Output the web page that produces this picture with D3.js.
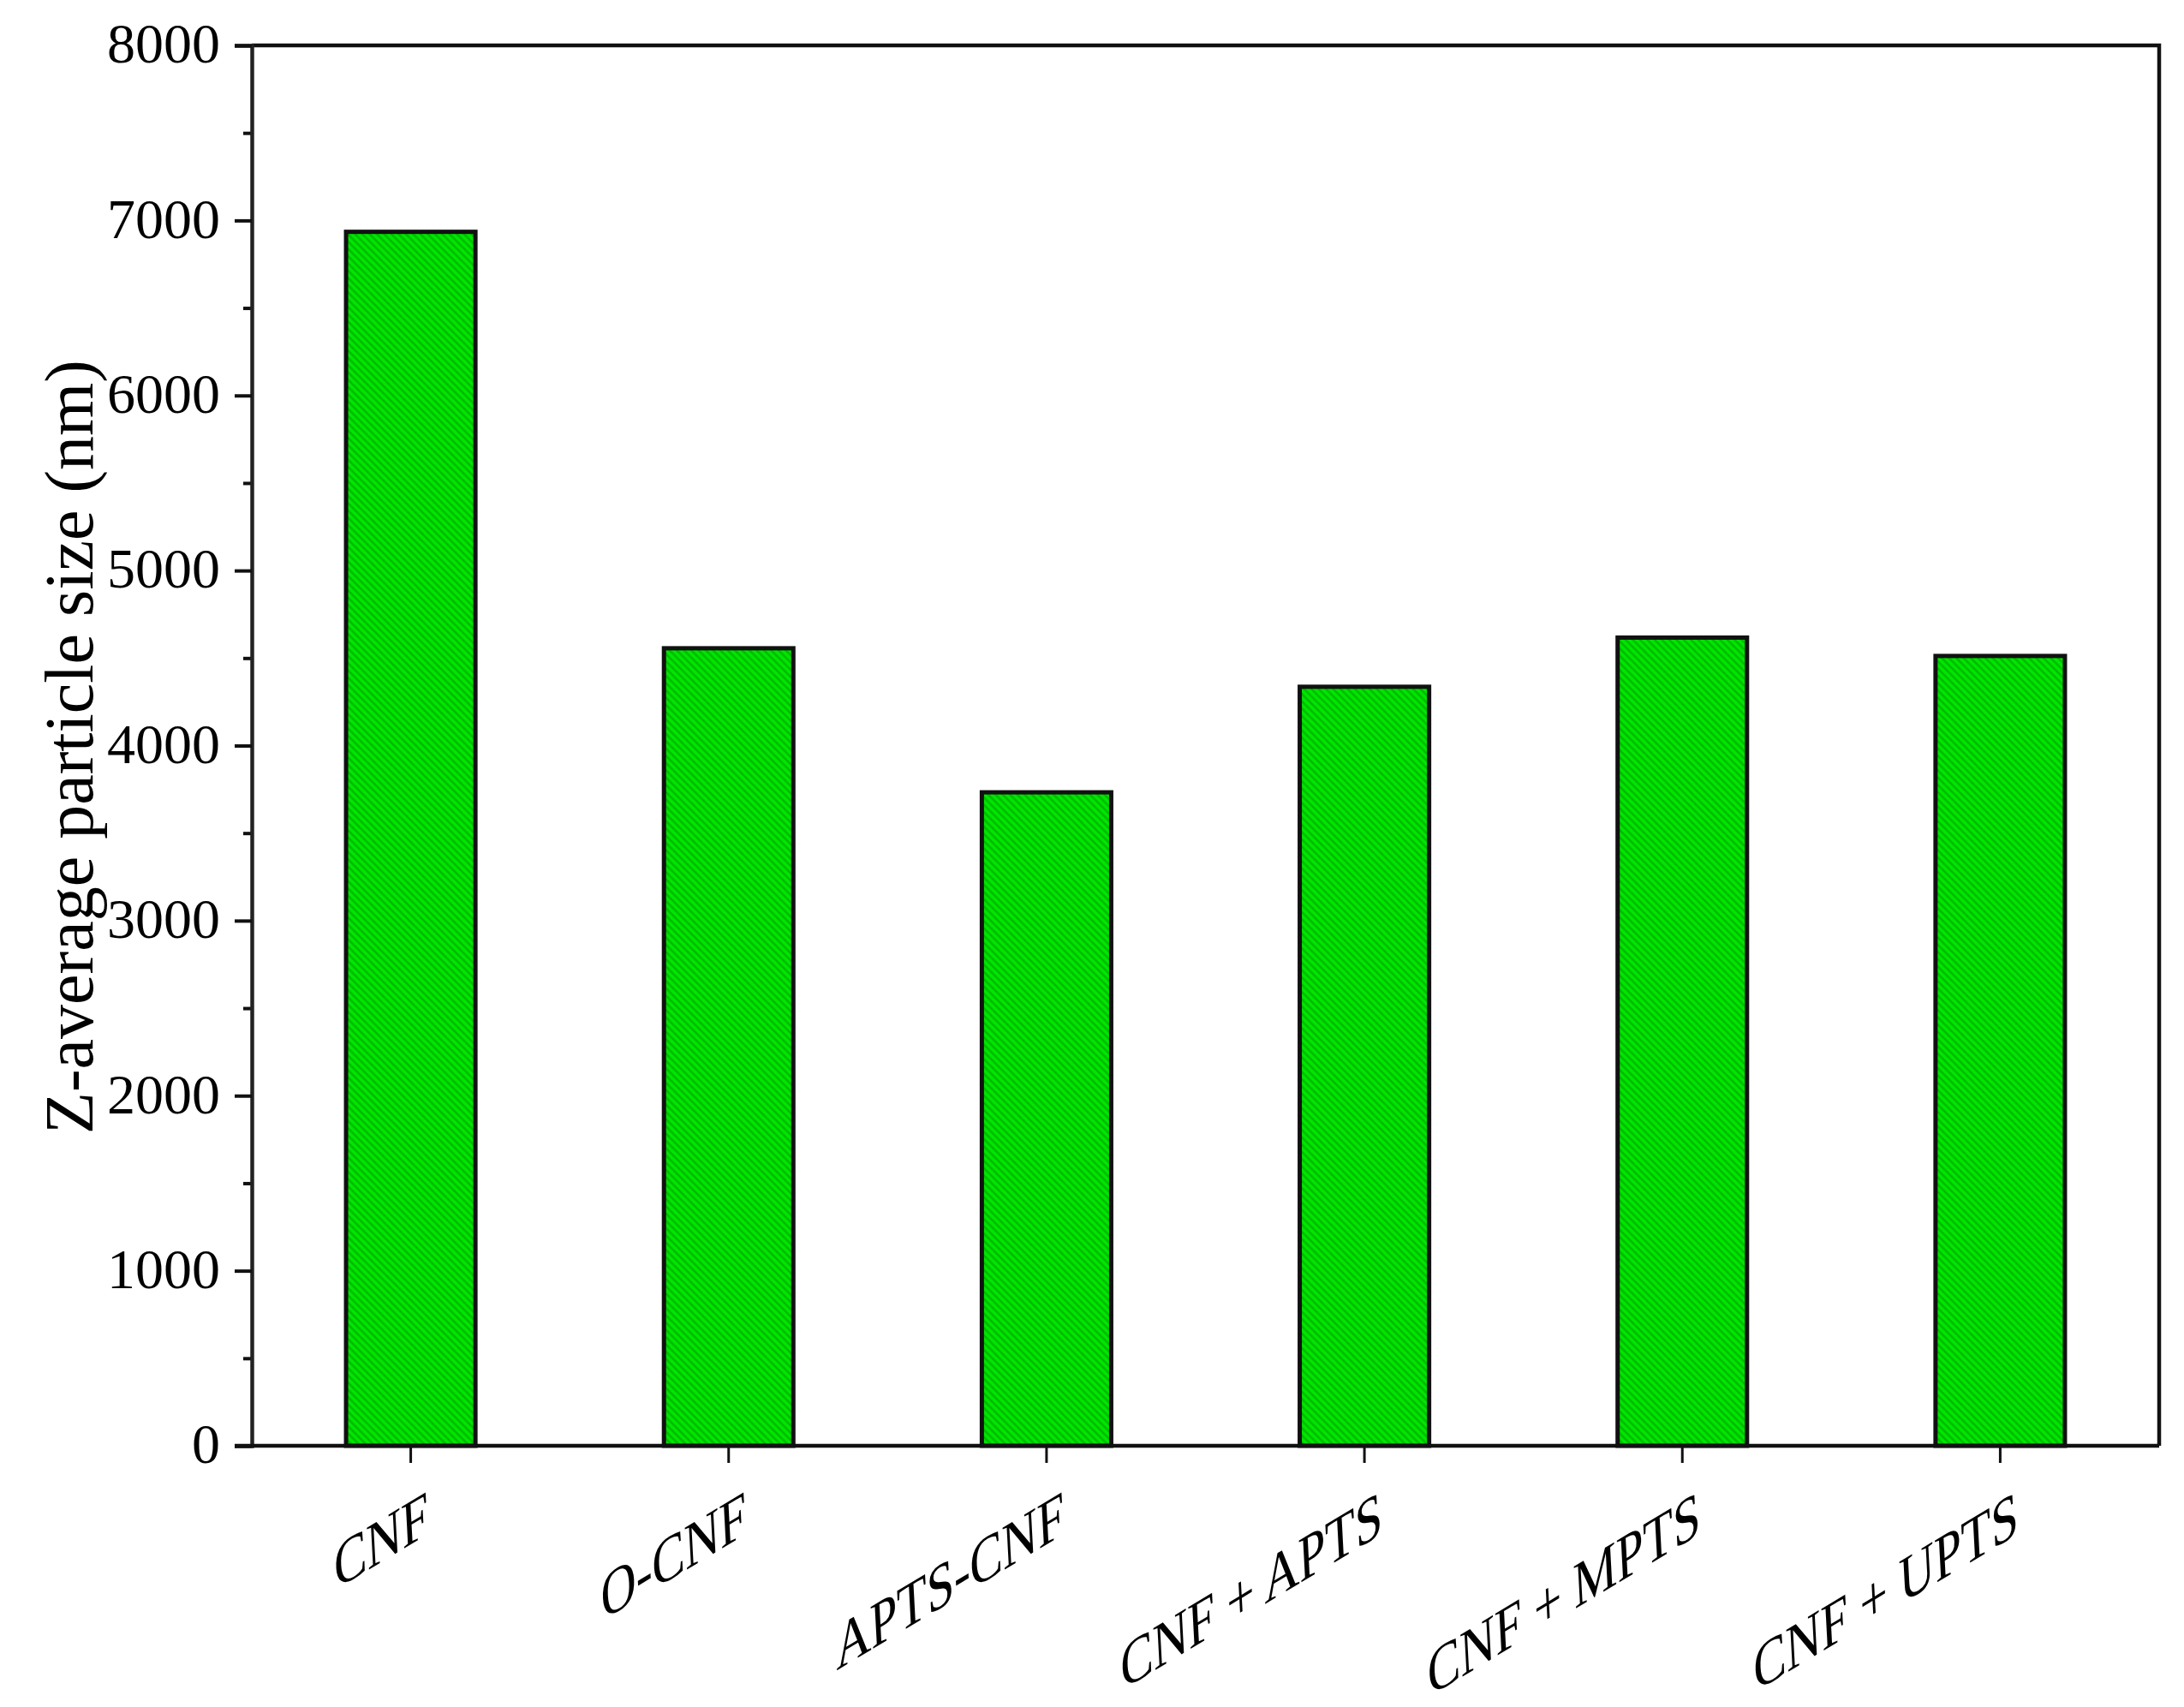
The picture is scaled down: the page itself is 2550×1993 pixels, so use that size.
<!DOCTYPE html>
<html>
<head>
<meta charset="utf-8">
<script src="https://cdn.jsdelivr.net/npm/d3@7"></script>
<style>
  html, body { margin: 0; padding: 0; background: #fff; }
  svg { display: block; }
  text { font-family: "Liberation Serif", "Times New Roman", serif; fill: #000; }
</style>
</head>
<body>
<svg id="bar-chart-svg"></svg>
<script>
// Chart data
const samples = ["CNF", "O-CNF", "APTS-CNF", "CNF + APTS", "CNF + MPTS", "CNF + UPTS"];
const zAverage = [6935, 4556, 3733, 4336, 4617, 4512];
const yTicks = [0, 1000, 2000, 3000, 4000, 5000, 6000, 7000, 8000];
const yMinorTicks = [500, 1500, 2500, 3500, 4500, 5500, 6500, 7500];
const yTitle = "Z-average particle size (nm)";

const data = samples.map((name, i) => ({ name, value: zAverage[i] }));

const width = 2550;
const height = 1993;

const svg = d3.select("#bar-chart-svg")
  .attr("width", width)
  .attr("height", height)
  .attr("viewBox", `0 0 ${width} ${height}`);

svg.append("rect").attr("width", width).attr("height", height).attr("fill", "#fff");

const margin = { top: 53, right: 29, bottom: 305, left: 294 };
const innerWidth = width - margin.left - margin.right;
const innerHeight = height - margin.top - margin.bottom;

// hatched green fill
const defs = svg.append("defs");
const pat = defs.append("pattern")
  .attr("id", "hatch")
  .attr("patternUnits", "userSpaceOnUse")
  .attr("width", 6)
  .attr("height", 6)
  .attr("patternTransform", "rotate(-45)");
pat.append("rect").attr("width", 6).attr("height", 6).attr("fill", "#00e600");
pat.append("line")
  .attr("x1", 1.5).attr("y1", 0).attr("x2", 1.5).attr("y2", 6)
  .attr("stroke", "#00b400").attr("stroke-width", 2.2);

// scales
const xScale = d3.scaleBand()
  .domain(samples)
  .range([0, innerWidth])
  .paddingInner(0.593)
  .paddingOuter(0.2965);

const yScale = d3.scaleLinear()
  .domain([0, 8000])
  .range([innerHeight, 0]);

const g = svg.append("g")
  .attr("transform", `translate(${margin.left},${margin.top})`);

// bars
g.selectAll("rect.bar")
  .data(data)
  .enter()
  .append("rect")
  .attr("class", "bar")
  .attr("x", d => xScale(d.name))
  .attr("y", d => yScale(d.value))
  .attr("width", xScale.bandwidth())
  .attr("height", d => innerHeight - yScale(d.value))
  .attr("fill", "url(#hatch)")
  .attr("stroke", "#111")
  .attr("stroke-width", 5);

// frame (top and right lines)
g.append("path")
  .attr("d", `M0,0H${innerWidth}V${innerHeight}`)
  .attr("fill", "none")
  .attr("stroke", "#111")
  .attr("stroke-width", 4.5);

// minor y ticks
const yMinorG = g.append("g")
  .call(d3.axisLeft(yScale).tickValues(yMinorTicks).tickSize(10).tickFormat(""));
yMinorG.select(".domain").remove();
yMinorG.selectAll("line").attr("stroke", "#111").attr("stroke-width", 4);

// Y axis
const yAxisG = g.append("g")
  .call(d3.axisLeft(yScale).tickValues(yTicks).tickSize(20).tickPadding(17).tickFormat(d3.format("d")));
yAxisG.select(".domain").attr("stroke", "#222").attr("stroke-width", 4.5);
yAxisG.selectAll("line").attr("stroke", "#111").attr("stroke-width", 4);
yAxisG.selectAll("text")
  .attr("font-size", 66)
  .attr("dy", "0.3em");

// X axis
const xAxisG = g.append("g")
  .attr("transform", `translate(0,${innerHeight})`)
  .call(d3.axisBottom(xScale).tickSize(20).tickSizeOuter(0));
xAxisG.select(".domain")
  .attr("d", `M-20,0H${innerWidth}`)
  .attr("stroke", "#111").attr("stroke-width", 4.5);
xAxisG.selectAll("line").attr("stroke", "#111").attr("stroke-width", 3);
xAxisG.selectAll("text")
  .attr("font-size", 66)
  .attr("y", null)
  .attr("dy", null)
  .style("text-anchor", "end")
  .attr("transform", "translate(22,102) rotate(-31) skewX(-28)");

// Y title
g.append("text")
  .attr("transform", `translate(${108 - margin.left},${872 - margin.top}) rotate(-90)`)
  .attr("text-anchor", "middle")
  .attr("font-size", 80)
  .text(yTitle);
</script>
</body>
</html>
